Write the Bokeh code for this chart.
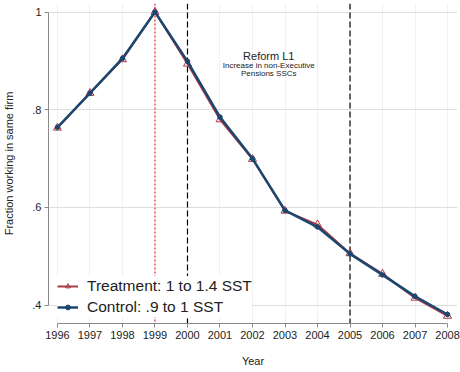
from bokeh.plotting import figure
from bokeh.models import (Range1d, FixedTicker, Span, Legend, LegendItem, Label)
from bokeh.embed import file_html
from bokeh.resources import INLINE

# ---- data ----
years = [1996, 1997, 1998, 1999, 2000, 2001, 2002, 2003, 2004, 2005, 2006, 2007, 2008]
treatment = [0.763, 0.834, 0.903, 1.000, 0.894, 0.780, 0.699, 0.593, 0.565, 0.506, 0.464, 0.415, 0.378]
control = [0.764, 0.834, 0.905, 1.000, 0.899, 0.785, 0.700, 0.594, 0.560, 0.505, 0.462, 0.418, 0.381]
treatment_label = "Treatment: 1 to 1.4 SST"
control_label = "Control: .9 to 1 SST"
yticks = [0.4, 0.6, 0.8, 1.0]
ytick_labels = [".4", ".6", ".8", "1"]
base_year = 1999
reform_years = [2000, 2005]
reform_title = "Reform L1"
reform_sub = ["Increase in non-Executive", "Pensions SSCs"]

FONT = "Liberation Sans"
RED = "#ad3a47"
NAVY = "#1a476f"

p = figure(width=460, height=372, output_backend="svg", toolbar_location=None,
           x_range=Range1d(1995.724, 2008.307), y_range=Range1d(0.36255, 1.0174),
           min_border_left=47, min_border_right=3, min_border_top=3, min_border_bottom=49)
p.outline_line_color = None
p.background_fill_color = "white"

# axes
p.xaxis.ticker = FixedTicker(ticks=years)
p.yaxis.ticker = FixedTicker(ticks=yticks)
p.yaxis.major_label_overrides = {t: l for t, l in zip(yticks, ytick_labels)}
p.xaxis.bounds = (years[0], years[-1])
p.yaxis.bounds = (yticks[0], yticks[-1])
for ax in (p.xaxis[0], p.yaxis[0]):
    ax.axis_line_color = "#8a8a8a"
    ax.major_tick_line_color = "#8a8a8a"
    ax.major_tick_out = 4
    ax.major_tick_in = 0
    ax.minor_tick_line_color = None
    ax.major_label_text_font = FONT
    ax.major_label_text_font_size = "11px"
    ax.major_label_text_color = "#222222"
    ax.major_label_standoff = 3
    ax.axis_label_text_font = FONT
    ax.axis_label_text_font_size = "11px"
    ax.axis_label_text_font_style = "normal"
    ax.axis_label_text_color = "#222222"
p.yaxis.major_label_orientation = "horizontal"
p.xaxis.axis_label = "Year"
p.yaxis.axis_label = "Fraction working in same firm"
p.xaxis.axis_label_standoff = 13
p.yaxis.axis_label_standoff = 14

# grids
p.xgrid.ticker = FixedTicker(ticks=years)
p.xgrid.grid_line_color = "#f0f0f0"
p.ygrid.ticker = FixedTicker(ticks=yticks)
p.ygrid.grid_line_color = "#dedede"

# vertical reference lines
p.add_layout(Span(location=base_year, dimension="height", line_color="#ff7474",
                  line_width=2, line_dash="2 2", level="underlay"))
for yr in reform_years:
    p.add_layout(Span(location=yr, dimension="height", line_color="black",
                      line_width=1.2, line_dash="6 3", level="underlay"))

# series
r_tl = p.line(years, treatment, line_color=RED, line_width=2)
r_tm = p.scatter(years, treatment, marker="triangle", size=8, fill_color=None,
                 line_color=RED, line_width=1)
r_cl = p.line(years, control, line_color=NAVY, line_width=2.5)
r_cm = p.scatter(years, control, marker="circle", size=4.5, fill_color=NAVY,
                 line_color=NAVY)

# annotation text
mid_x = (reform_years[0] + reform_years[1]) / 2
p.add_layout(Label(x=mid_x, y=0.909, text=reform_title, text_align="center",
                   text_baseline="middle", text_font=FONT, text_font_size="11px",
                   text_color="#222222"))
p.add_layout(Label(x=mid_x, y=0.890, text=reform_sub[0], text_align="center",
                   text_baseline="middle", text_font=FONT, text_font_size="8px",
                   text_color="#222222"))
p.add_layout(Label(x=mid_x, y=0.8735, text=reform_sub[1], text_align="center",
                   text_baseline="middle", text_font=FONT, text_font_size="8px",
                   text_color="#222222"))

legend = Legend(items=[LegendItem(label=treatment_label, renderers=[r_tl, r_tm]),
                       LegendItem(label=control_label, renderers=[r_cl, r_cm])],
                location=(9, 6), padding=8, margin=0, spacing=1,
                glyph_width=21, glyph_height=12, label_height=20, label_standoff=9,
                label_text_font=FONT, label_text_font_size="15.5px",
                label_text_color="#222222",
                background_fill_color="white", background_fill_alpha=1.0,
                border_line_color=None)
p.add_layout(legend)

open("out.html", "w").write(file_html(p, INLINE))
